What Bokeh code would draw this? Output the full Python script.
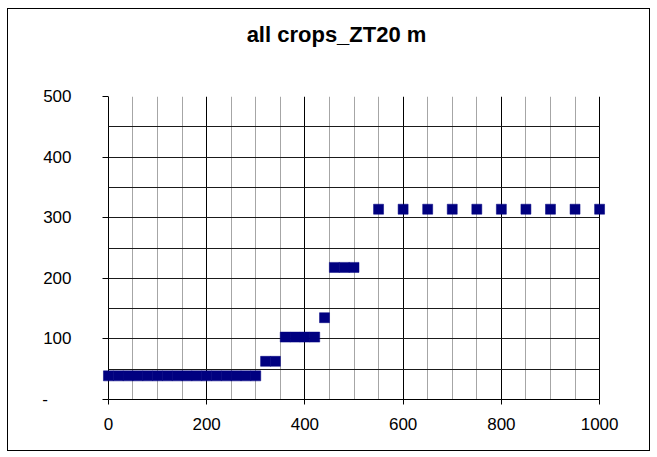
from bokeh.plotting import figure
from bokeh.models import Range1d, FixedTicker, ColumnDataSource, Label
from bokeh.embed import file_html
from bokeh.resources import INLINE

# Data
distance = [0, 20, 40, 60, 80, 100, 120, 140, 160, 180, 200, 220, 240, 260, 280, 300,
            320, 340,
            360, 380, 400, 420,
            440,
            460, 480, 500,
            550, 600, 650, 700, 750, 800, 850, 900, 950, 1000]
height = [39, 39, 39, 39, 39, 39, 39, 39, 39, 39, 39, 39, 39, 39, 39, 39,
          63, 63,
          103, 103, 103, 103,
          135,
          218, 218, 218,
          314, 314, 314, 314, 314, 314, 314, 314, 314, 314]

x_ticks = [0, 200, 400, 600, 800, 1000]
x_minor = [50, 100, 150, 250, 300, 350, 450, 500, 550, 650, 700, 750, 850, 900, 950]
y_ticks = [0, 100, 200, 300, 400, 500]
y_grid = [0, 50, 100, 150, 200, 250, 300, 350, 400, 450, 500]
y_labels = {0: "-\u2007\u2007\u00a0", 100: "100", 200: "200", 300: "300", 400: "400", 500: "500"}
title_text = "all crops_ZT20 m"

FONT = "Liberation Sans"

p = figure(width=643, height=443, output_backend="svg", toolbar_location=None,
           x_range=Range1d(-12, 1012), y_range=Range1d(0, 500),
           min_border_left=94, min_border_right=46, min_border_top=87, min_border_bottom=53)
p.styles = {"margin-left": "7px", "margin-top": "8px", "border": "1px solid black"}
p.outline_line_color = None
p.background_fill_color = "white"
p.border_fill_color = "white"

# grids (the x grid line at 0 doubles as the y axis line)
p.xgrid.ticker = FixedTicker(ticks=x_ticks, minor_ticks=x_minor)
p.xgrid.grid_line_color = "black"
p.xgrid.grid_line_width = 1
p.xgrid.minor_grid_line_color = "#a6a6a6"
p.xgrid.minor_grid_line_width = 1
p.ygrid.ticker = FixedTicker(ticks=y_grid)
p.ygrid.grid_line_color = "#1a1a1a"
p.ygrid.grid_line_width = 1
if "cross_bounds" in p.ygrid[0].properties():
    p.ygrid.cross_bounds = (0, 1000)

# axes
p.xaxis.ticker = FixedTicker(ticks=x_ticks)
p.xaxis.bounds = (0, 1000)
p.xaxis.axis_line_color = "black"
p.xaxis.major_tick_in = 0
p.xaxis.major_tick_out = 5
p.xaxis.major_label_standoff = 13

p.yaxis.ticker = FixedTicker(ticks=y_ticks)
p.yaxis.major_label_overrides = y_labels
p.yaxis.axis_line_color = None
p.yaxis.major_tick_in = 6
p.yaxis.major_tick_out = 0
p.yaxis.major_label_standoff = 31

for ax in (p.xaxis, p.yaxis):
    ax.major_tick_line_color = "black"
    ax.minor_tick_line_color = None
    ax.major_label_text_font = FONT
    ax.major_label_text_font_size = "17px"
    ax.major_label_text_color = "black"

src = ColumnDataSource(dict(x=distance, y=height))
p.scatter("x", "y", source=src, marker="square", size=10,
          fill_color="#000080", line_color="#000080", line_width=0.5)

# chart title placed in the panel above the plot area
title = Label(x=234, y=62, x_units="screen", y_units="screen", text=title_text,
              text_font=FONT, text_font_size="22px", text_font_style="bold",
              text_align="center", text_baseline="alphabetic", text_color="black")
p.add_layout(title, "above")

open("out.html", "w").write(file_html(p, INLINE))
